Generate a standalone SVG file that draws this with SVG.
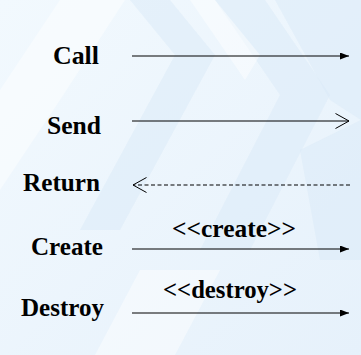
<svg xmlns="http://www.w3.org/2000/svg" width="361" height="355" viewBox="0 0 361 355">
  <defs>
    <linearGradient id="bg" x1="0" y1="0" x2="1" y2="1">
      <stop offset="0" stop-color="#f2f9fe"/>
      <stop offset="1" stop-color="#e6f1fb"/>
    </linearGradient>
    <marker id="filled" markerWidth="9" markerHeight="7" refX="9" refY="3.5" orient="auto" markerUnits="userSpaceOnUse">
      <path d="M0,0 L9,3.5 L0,7 Z" fill="#000"/>
    </marker>
    <marker id="open" markerWidth="16" markerHeight="18" refX="14.5" refY="8" orient="auto-start-reverse" markerUnits="userSpaceOnUse">
      <path d="M1,0.5 L14.5,8 L1,15.5" fill="none" stroke="#000" stroke-width="1"/>
    </marker>
  </defs>
  <style>
    .lbl { font-family: "Liberation Serif", "Times New Roman", serif; font-weight: bold; font-size: 26px; fill: #000; }
    .st { font-size: 25px; }
    .msg { stroke: #000; stroke-width: 1.2; fill: none; }
    .dash { stroke-dasharray: 4 2.5; }
    .deco { fill: #d9e9f7; opacity: 0.5; }
    .deco2 { fill: #ffffff; opacity: 0.45; }
  </style>

  <!-- backdrop with faint chevron motif -->
  <rect width="361" height="355" fill="url(#bg)"/>
  <polygon class="deco2" points="0,90 60,0 125,0 60,100 0,190"/>
  <polygon class="deco" points="130,0 170,0 215,55 120,230 80,230 175,55"/>
  <polygon class="deco" points="215,0 265,0 330,95 250,250 200,250 280,95"/>
  <polygon class="deco2" points="190,0 215,0 260,55 245,80"/>
  <polygon class="deco" points="275,0 361,0 361,120 330,100"/>
  <polygon class="deco2" points="140,270 220,270 175,355 95,355"/>
  <polygon class="deco" points="300,150 361,120 361,260 320,260"/>

  <!-- message kinds -->
  <g id="call">
    <text class="lbl" x="53" y="64" textLength="46" lengthAdjust="spacingAndGlyphs">Call</text>
  </g>
  <g id="send">
    <text class="lbl" x="47" y="134" textLength="54" lengthAdjust="spacingAndGlyphs">Send</text>
  </g>
  <g id="return">
    <text class="lbl" x="23" y="191" textLength="77" lengthAdjust="spacingAndGlyphs">Return</text>
  </g>
  <g id="create">
    <text class="lbl" x="31" y="255" textLength="72" lengthAdjust="spacingAndGlyphs">Create</text>
    <text class="lbl st" x="172" y="237" textLength="124" lengthAdjust="spacingAndGlyphs">&lt;&lt;create&gt;&gt;</text>
  </g>
  <g id="destroy">
    <text class="lbl" x="21" y="316" textLength="83" lengthAdjust="spacingAndGlyphs">Destroy</text>
    <text class="lbl st" x="163" y="298" textLength="134" lengthAdjust="spacingAndGlyphs">&lt;&lt;destroy&gt;&gt;</text>
  </g>

  <!-- connectors -->
  <g id="connectors">
    <line class="msg" x1="132" y1="56" x2="349" y2="56" marker-end="url(#filled)"/>
    <line class="msg" x1="132" y1="121" x2="349" y2="121" marker-end="url(#open)"/>
    <line class="msg dash" x1="350" y1="185" x2="133" y2="185" marker-end="url(#open)"/>
    <line class="msg" x1="132" y1="249" x2="349" y2="249" marker-end="url(#filled)"/>
    <line class="msg" x1="132" y1="313" x2="349" y2="313" marker-end="url(#filled)"/>
  </g>
</svg>
